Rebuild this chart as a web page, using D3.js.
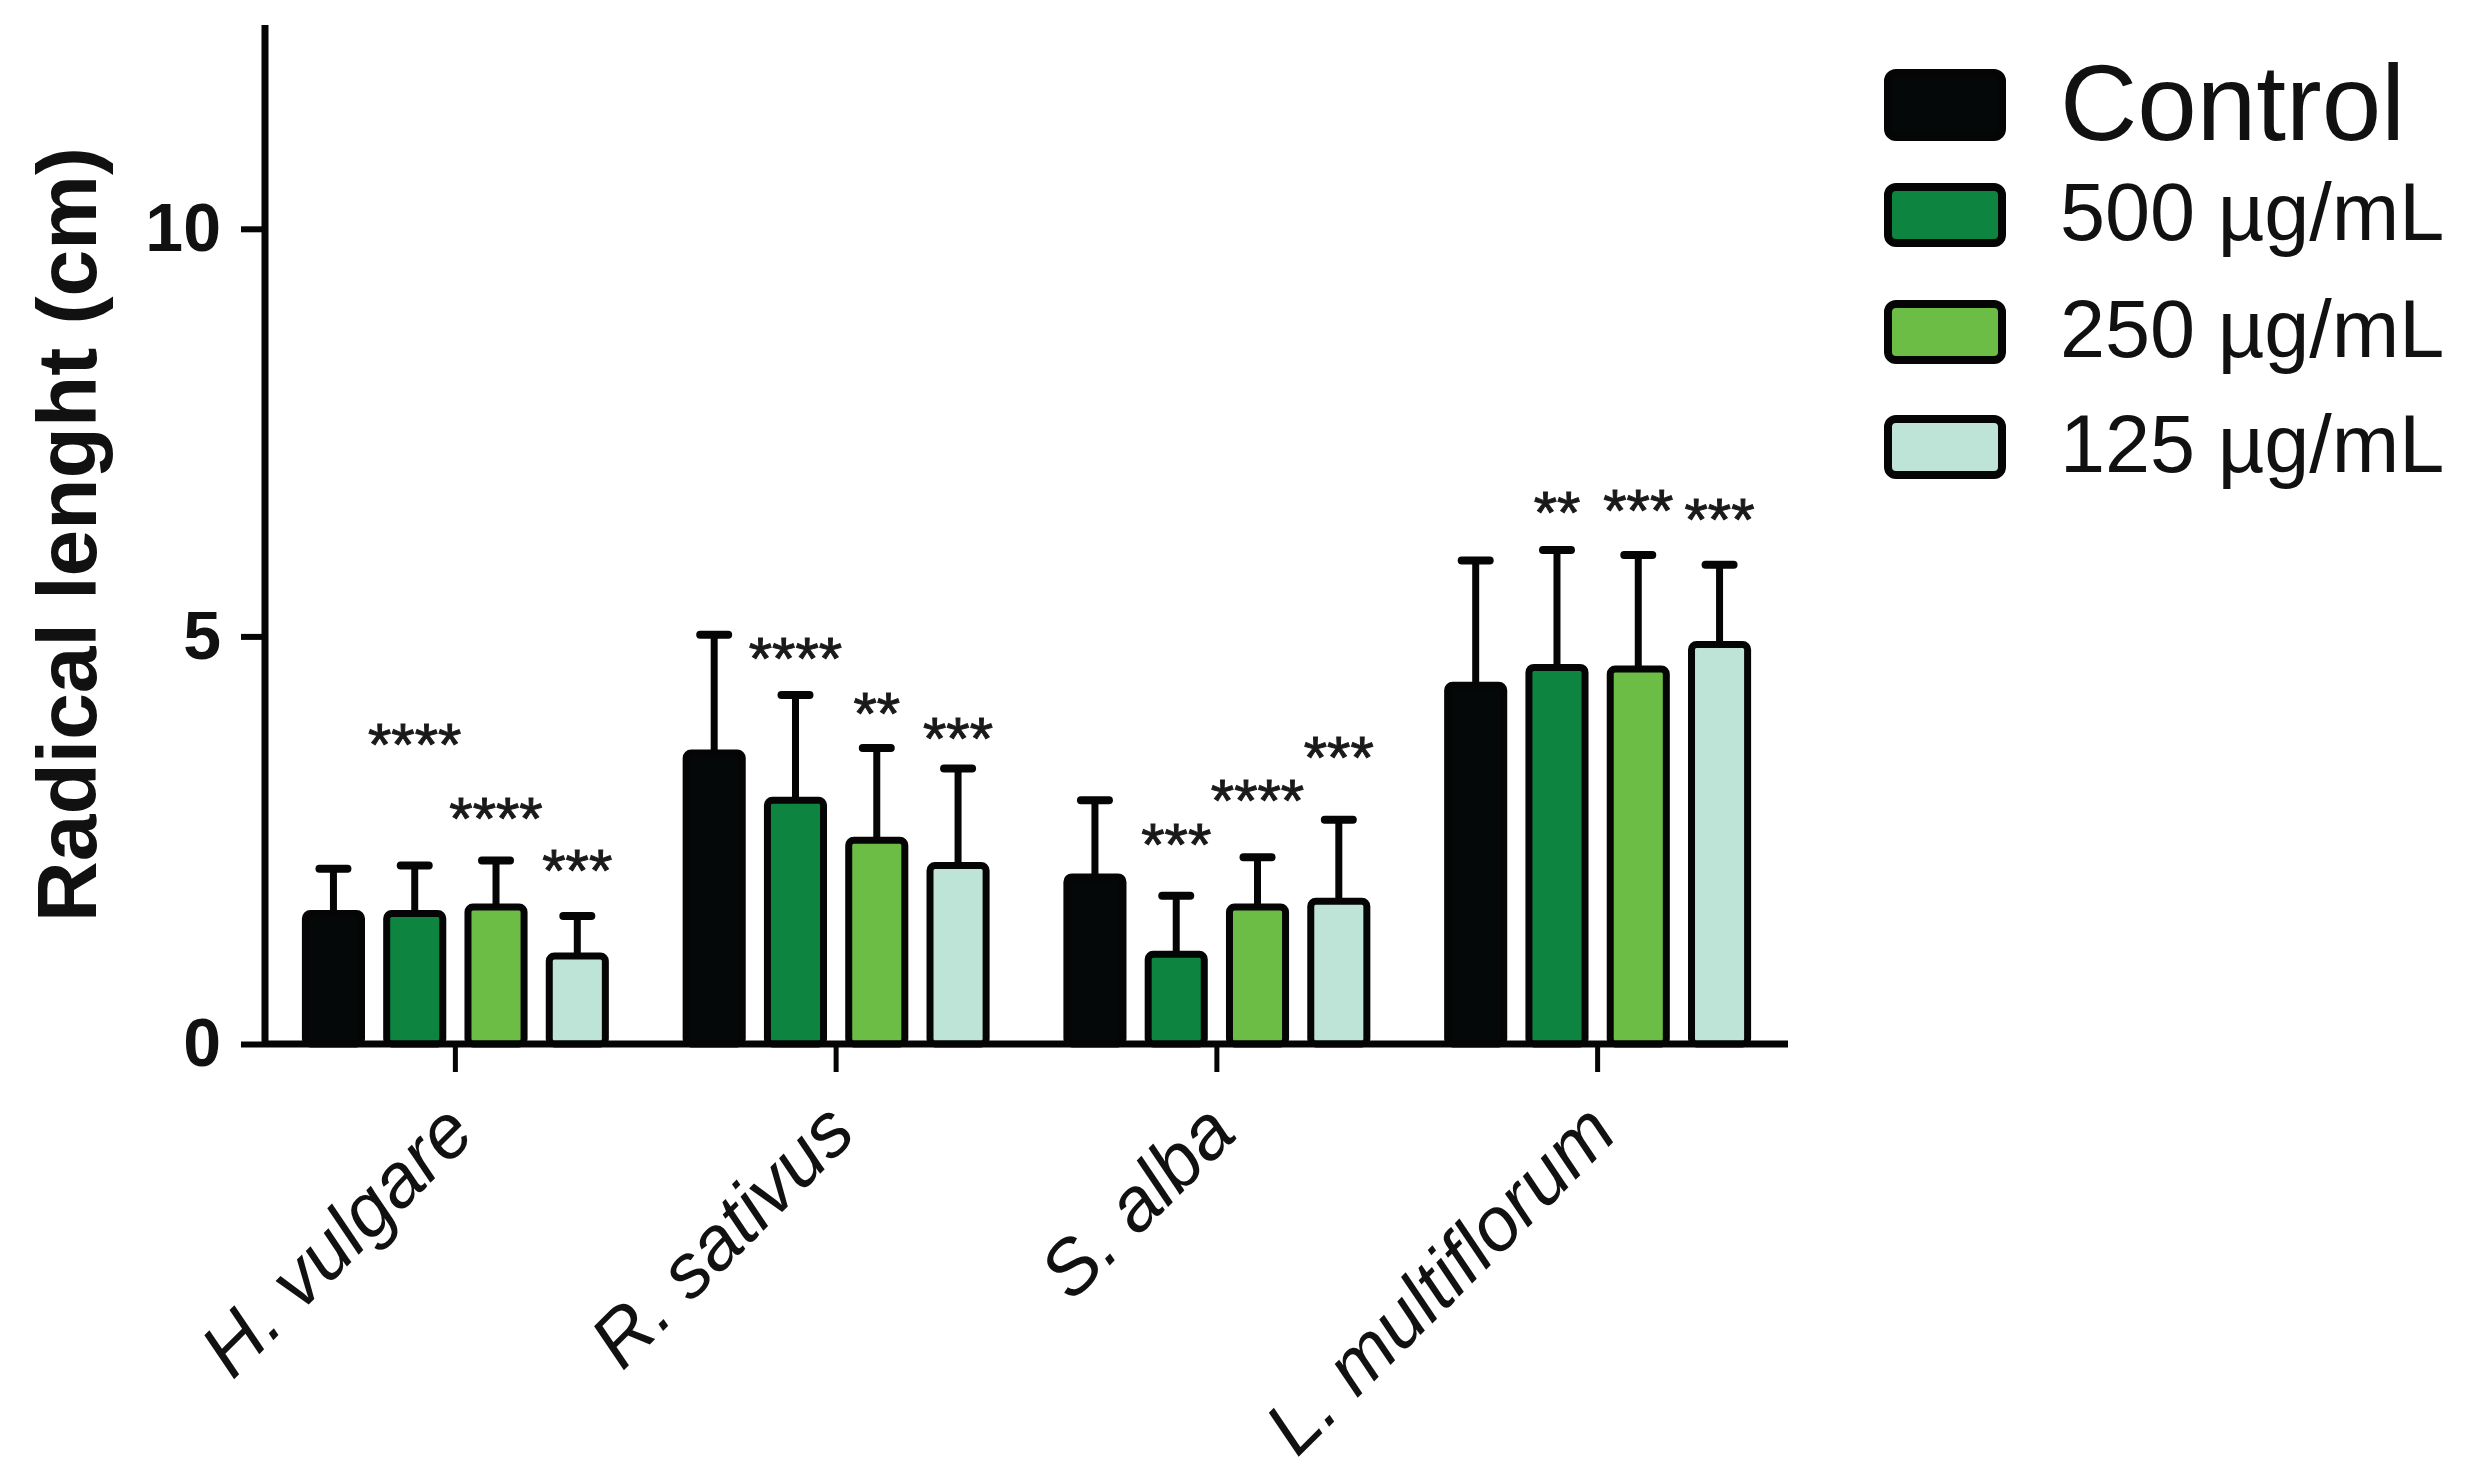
<!DOCTYPE html>
<html>
<head>
<meta charset="utf-8">
<script src="https://cdn.jsdelivr.net/npm/d3@7"></script>
<style>
  html, body { margin: 0; padding: 0; background: #fff; }
  svg { display: block; }
  text { font-family: "Liberation Sans", Arial, sans-serif; }
</style>
</head>
<body>
<svg id="chart" width="2474" height="1479"></svg>
<script>
// ---- Data ----
const categories = ["H. vulgare", "R. sativus", "S. alba", "L. multiflorum"];
const seriesNames = ["Control", "500 µg/mL", "250 µg/mL", "125 µg/mL"];
const seriesColors = ["#050808", "#0e8441", "#6bbd45", "#bee4d7"];

const meanControl = [1.60, 3.57, 2.05, 4.40];
const mean500     = [1.60, 2.99, 1.10, 4.62];
const mean250     = [1.68, 2.50, 1.68, 4.60];
const mean125     = [1.08, 2.19, 1.75, 4.90];

const sdControl = [0.55, 1.45, 0.94, 1.53];
const sd500     = [0.59, 1.29, 0.72, 1.44];
const sd250     = [0.57, 1.13, 0.61, 1.40];
const sd125     = [0.49, 1.19, 1.00, 0.98];

const sig500 = ["****", "****", "***", "**"];
const sig250 = ["****", "**", "****", "***"];
const sig125 = ["***", "***", "***", "***"];
const sigLevel500 = [3.84, 4.90, 2.61, 6.69];
const sigLevel250 = [2.93, 4.22, 3.16, 6.71];
const sigLevel125 = [2.30, 3.91, 3.68, 6.60];

const yTicks = [0, 5, 10];
const yMax = 12.5;
const yTitle = "Radical lenght (cm)";

(function () {
// ---- Build table ----
const means = [meanControl, mean500, mean250, mean125];
const sds = [sdControl, sd500, sd250, sd125];
const sigs = [null, sig500, sig250, sig125];
const sigLevels = [null, sigLevel500, sigLevel250, sigLevel125];

const rows = [];
categories.forEach((c, ci) => {
  seriesNames.forEach((s, si) => {
    rows.push({
      cat: c, ser: s, si,
      mean: means[si][ci], sd: sds[si][ci],
      sig: sigs[si] ? sigs[si][ci] : null,
      sigLevel: sigLevels[si] ? sigLevels[si][ci] : null
    });
  });
});

// ---- Layout ----
const svg = d3.select("#chart");
const mLeft = 265, mRight = 1788, mTop = 25, mBottom = 1044;

const x0 = d3.scaleBand().domain(categories).range([mLeft, mRight])
  .paddingInner(0.146).paddingOuter(0.073);
const x1 = d3.scaleBand().domain(seriesNames).range([0, x0.bandwidth()])
  .paddingInner(0.31).paddingOuter(0.155);
const y = d3.scaleLinear().domain([0, yMax]).range([mBottom, mTop]);
const color = d3.scaleOrdinal().domain(seriesNames).range(seriesColors);

// ---- Bars ----
const g = svg.append("g");
g.selectAll("rect.bar").data(rows).join("rect")
  .attr("class", "bar")
  .attr("x", d => x0(d.cat) + x1(d.ser))
  .attr("y", d => y(d.mean))
  .attr("width", x1.bandwidth())
  .attr("height", d => y(0) - y(d.mean))
  .attr("rx", 5)
  .attr("fill", d => color(d.ser))
  .attr("stroke", "#050505")
  .attr("stroke-width", 7);

// ---- Error bars (upper only) ----
const cx = d => x0(d.cat) + x1(d.ser) + x1.bandwidth() / 2;
const eb = g.selectAll("g.err").data(rows).join("g").attr("class", "err");
eb.append("line")
  .attr("x1", cx).attr("x2", cx)
  .attr("y1", d => y(d.mean))
  .attr("y2", d => y(d.mean + d.sd))
  .attr("stroke", "#050505").attr("stroke-width", 7);
eb.append("line")
  .attr("x1", d => cx(d) - 14)
  .attr("x2", d => cx(d) + 14)
  .attr("y1", d => y(d.mean + d.sd))
  .attr("y2", d => y(d.mean + d.sd))
  .attr("stroke", "#050505").attr("stroke-width", 8).attr("stroke-linecap", "round");

// ---- Significance stars ----
const starSize = 60;
g.selectAll("text.sig").data(rows.filter(d => d.sig)).join("text")
  .attr("class", "sig")
  .attr("x", cx)
  .attr("y", d => y(d.sigLevel) + starSize * 0.57)
  .attr("text-anchor", "middle")
  .attr("font-size", starSize)
  .attr("fill", "#1a1a1a")
  .attr("stroke", "#1a1a1a").attr("stroke-width", 1)
  .text(d => d.sig);

// ---- Axes ----
const yAxis = svg.append("g")
  .attr("transform", `translate(${mLeft},0)`)
  .call(d3.axisLeft(y).tickValues(yTicks).tickSize(24).tickPadding(20).tickFormat(d3.format("d")));
yAxis.select(".domain").attr("d", `M0,${mTop}V${mBottom}`).attr("stroke", "#050505").attr("stroke-width", 7);
yAxis.selectAll(".tick line").attr("stroke", "#050505").attr("stroke-width", 6);
yAxis.selectAll(".tick text")
  .attr("font-size", 68).attr("font-weight", "bold").attr("fill", "#111")
  .attr("font-family", "'Liberation Sans', Arial, sans-serif");

const xAxis = svg.append("g")
  .attr("transform", `translate(0,${mBottom})`)
  .call(d3.axisBottom(x0).tickSize(28).tickPadding(0));
xAxis.select(".domain").attr("d", `M${mLeft},0H${mRight}`).attr("stroke", "#050505").attr("stroke-width", 7);
xAxis.selectAll(".tick line").attr("stroke", "#050505").attr("stroke-width", 5);
xAxis.selectAll(".tick text")
  .attr("font-size", 76).attr("font-style", "italic").attr("fill", "#111")
  .attr("font-family", "'Liberation Sans', Arial, sans-serif")
  .attr("text-anchor", "end")
  .attr("dy", null)
  .attr("y", null)
  .attr("transform", "translate(22,92) rotate(-45)");

// ---- Y title ----
svg.append("text")
  .attr("transform", `translate(96,${(mTop + mBottom) / 2}) rotate(-90)`)
  .attr("text-anchor", "middle")
  .attr("font-size", 84).attr("font-weight", "bold").attr("fill", "#111")
  .text(yTitle);

// ---- Legend ----
const legendRows = [
  { name: seriesNames[0], cy: 105, h: 64, fs: 107, base: 140 },
  { name: seriesNames[1], cy: 215, h: 56, fs: 81, base: 240 },
  { name: seriesNames[2], cy: 332, h: 56, fs: 81, base: 357 },
  { name: seriesNames[3], cy: 447, h: 56, fs: 81, base: 472 }
];
const lg = svg.append("g");
lg.selectAll("rect").data(legendRows).join("rect")
  .attr("x", 1888).attr("y", d => d.cy - d.h / 2)
  .attr("width", 114).attr("height", d => d.h)
  .attr("rx", 8)
  .attr("fill", d => color(d.name))
  .attr("stroke", "#050505").attr("stroke-width", 8);
lg.selectAll("text").data(legendRows).join("text")
  .attr("x", 2060).attr("y", d => d.base)
  .attr("font-size", d => d.fs).attr("fill", "#111")
  .text(d => d.name);
})();
</script>
</body>
</html>
